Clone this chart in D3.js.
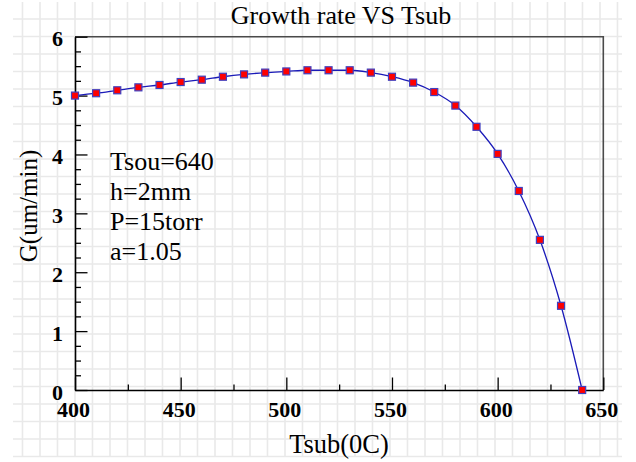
<!DOCTYPE html>
<html>
<head>
<meta charset="utf-8">
<script src="https://cdn.jsdelivr.net/npm/d3@7"></script>
<style>
  body { margin: 0; background: #fff; }
  svg { display: block; }
</style>
</head>
<body>
<div id="chart"></div>
<script>
// Tsub (0C) and growth rate G (um/min)
let tsub = [400, 410, 420, 430, 440, 450, 460, 470, 480, 490, 500, 510, 520,
            530, 540, 550, 560, 570, 580, 590, 600, 610, 620, 630, 640]
let growth = [5.00, 5.04, 5.09, 5.14, 5.18, 5.23, 5.27, 5.32, 5.36, 5.39, 5.41, 5.43, 5.43,
              5.43, 5.39, 5.32, 5.22, 5.06, 4.83, 4.47, 4.01, 3.38, 2.55, 1.43, 0.00]
let xTicks = [400, 450, 500, 550, 600, 650]
let yTicks = [0, 1, 2, 3, 4, 5, 6]
let notes = ["Tsou=640", "h=2mm", "P=15torr", "a=1.05"]

let W = 636, H = 462
// plot frame edges (window.top is taken, so no bare "top")
let plotL = 75, plotR = 603.3, plotT = 36.7, plotB = 390
let serif = "'Liberation Serif', 'Times New Roman', 'DejaVu Serif', serif"

let svg = d3.select("#chart").append("svg")
    .attr("width", W)
    .attr("height", H)

svg.append("rect").attr("width", W).attr("height", H).attr("fill", "#fff")

// graph paper behind everything
let grid = svg.append("g")
    .attr("stroke", "#e9e9e9")
    .attr("stroke-width", 1.6)
grid.selectAll(".gv").data(d3.range(22.5, 622, 17.5)).enter().append("line")
    .attr("x1", d => d).attr("x2", d => d)
    .attr("y1", 2).attr("y2", 457)
grid.selectAll(".gh").data(d3.range(19, 460, 17.5)).enter().append("line")
    .attr("y1", d => d).attr("y2", d => d)
    .attr("x1", 13).attr("x2", 622)

let x = d3.scaleLinear().domain([400, 650]).range([plotL, plotR])
let y = d3.scaleLinear().domain([0, 6]).range([plotB, plotT])

// top and right border
svg.append("path")
    .attr("d", `M${plotL},${plotT}H${plotR}V${plotB}`)
    .attr("fill", "none")
    .attr("stroke", "#4a4a4a")
    .attr("stroke-width", 1.6)

// bottom axis, ticks pointing into the plot
let xAxis = svg.append("g").attr("transform", `translate(0,${plotB})`)
xAxis.call(d3.axisBottom(x)
    .tickValues(d3.range(400, 651, 25))
    .tickSize(0)
    .tickFormat(""))
xAxis.select(".domain").attr("stroke", "#000").attr("stroke-width", 1.6)
xAxis.selectAll(".tick line")
    .attr("y2", d => xTicks.includes(d) ? -12.5 : -5.5)
    .attr("stroke", "#000").attr("stroke-width", 1.3)
xAxis.selectAll(".tick").filter(d => xTicks.includes(d)).append("text")
    .attr("x", -2).attr("y", 26.5)
    .attr("text-anchor", "middle")
    .attr("fill", "#000")
    .style("font-family", serif)
    .style("font-size", "22px")
    .style("font-weight", "bold")
    .text(d => d)

// left axis, same treatment
let yAxis = svg.append("g").attr("transform", `translate(${plotL},0)`)
yAxis.call(d3.axisLeft(y)
    .tickValues(d3.range(0, 6.01, 0.25))
    .tickSize(0)
    .tickFormat(""))
yAxis.select(".domain").attr("stroke", "#000").attr("stroke-width", 1.6)
yAxis.selectAll(".tick line")
    .attr("x2", d => yTicks.includes(d) ? 12.5 : 6)
    .attr("stroke", "#000").attr("stroke-width", 1.3)
yAxis.selectAll(".tick").filter(d => yTicks.includes(d)).append("text")
    .attr("x", -12).attr("y", 9)
    .attr("text-anchor", "end")
    .attr("fill", "#000")
    .style("font-family", serif)
    .style("font-size", "22px")
    .style("font-weight", "bold")
    .text(d => d)

// curve through the points
let pts = tsub.map((t, i) => [t, growth[i]])
let line = d3.line()
    .x(d => x(d[0]))
    .y(d => y(d[1]))
    .curve(d3.curveMonotoneX)
svg.append("path")
    .datum(pts)
    .attr("d", line)
    .attr("fill", "none")
    .attr("stroke", "#1a1ab8")
    .attr("stroke-width", 1.3)

svg.selectAll(".mk").data(pts).enter().append("rect")
    .attr("x", d => x(d[0]) - 3.5)
    .attr("y", d => y(d[1]) - 3.5)
    .attr("width", 7)
    .attr("height", 7)
    .attr("fill", "#ff0000")
    .attr("stroke", "#4040c0")
    .attr("stroke-width", 1.2)

// title and axis labels
svg.append("text")
    .attr("x", 341).attr("y", 23.5)
    .attr("text-anchor", "middle")
    .style("font-family", serif)
    .style("font-size", "26px")
    .text("Growth rate VS Tsub")

svg.append("text")
    .attr("x", 339).attr("y", 452.5)
    .attr("text-anchor", "middle")
    .style("font-family", serif)
    .style("font-size", "26.5px")
    .text("Tsub(0C)")

svg.append("text")
    .attr("transform", "translate(36.5,206) rotate(-90)")
    .attr("text-anchor", "middle")
    .style("font-family", serif)
    .style("font-size", "25px")
    .text("G(um/min)")

// parameter notes
svg.selectAll(".note").data(notes).enter().append("text")
    .attr("x", 110)
    .attr("y", (d, i) => 170 + i * 30)
    .style("font-family", serif)
    .style("font-size", "26px")
    .text(d => d)
</script>
</body>
</html>
